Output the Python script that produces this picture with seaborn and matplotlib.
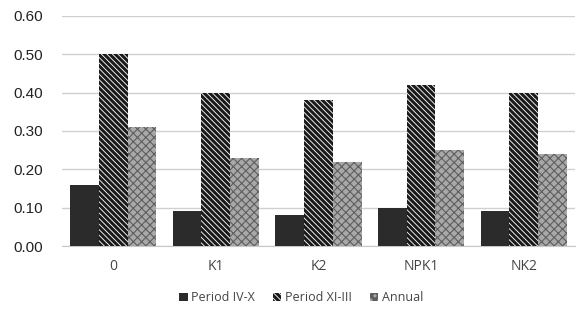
import matplotlib
matplotlib.use("Agg")
import matplotlib.pyplot as plt
import seaborn as sns
import pandas as pd
from matplotlib.patches import Patch

categories = ["0", "K1", "K2", "NPK1", "NK2"]
series = ["Period IV-X", "Period XI-III", "Annual"]
period_iv_x = [0.16, 0.09, 0.08, 0.10, 0.09]
period_xi_iii = [0.50, 0.40, 0.38, 0.42, 0.40]
annual = [0.31, 0.23, 0.22, 0.25, 0.24]
yticks = [0.0, 0.1, 0.2, 0.3, 0.4, 0.5, 0.6]

rows = []
for name, vals in zip(series, [period_iv_x, period_xi_iii, annual]):
    for c, v in zip(categories, vals):
        rows.append({"cat": c, "series": name, "value": v})
df = pd.DataFrame(rows)

sns.set_style("white")
plt.rcParams["hatch.linewidth"] = 2.2
fig = plt.figure(figsize=(5.79, 3.11), dpi=100)
ax = fig.add_axes([0.107, 0.209, 0.886, 0.74])

styles = {
    "Period IV-X": dict(fc="#2b2b2b", hatch=None, ec="#2b2b2b", hlw=None),
    "Period XI-III": dict(fc="white", hatch="\\" * 6, ec="#1a1a1a", hlw=2.2),
    "Annual": dict(fc="#a8a8a8", hatch="xxxx", ec="#5e5e5e", hlw=0.8),
}

sns.barplot(data=df, x="cat", y="value", hue="series", order=categories,
            hue_order=series, ax=ax, width=0.84, errorbar=None,
            palette=["#2b2b2b", "white", "#a8a8a8"], legend=False, zorder=3)

def style_patch(p, st):
    p.set_facecolor(st["fc"])
    p.set_edgecolor(st["ec"])
    p.set_linewidth(0)
    if st["hatch"]:
        p.set_hatch(st["hatch"])
        if st["hlw"] is not None and hasattr(p, "set_hatch_linewidth"):
            p.set_hatch_linewidth(st["hlw"])

n = len(categories)
for i, patch in enumerate(ax.patches[: n * len(series)]):
    style_patch(patch, styles[series[i // n]])

ax.set_ylim(0, 0.6)
ax.set_yticks(yticks)
ax.set_yticklabels([f"{t:.2f}" for t in yticks], fontsize=11,
                   family="Liberation Sans", color="#222222")
ax.set_xticks(range(n))
ax.set_xticklabels(categories, fontsize=10, family="Open Sans", color="#444444")
ax.tick_params(axis="y", length=0, pad=14)
ax.tick_params(axis="x", length=0, pad=9)
ax.yaxis.grid(True, color="#d0d0d0", linewidth=1.0, zorder=0)
ax.set_axisbelow(True)
for sp in ["top", "right", "left"]:
    ax.spines[sp].set_visible(False)
ax.spines["bottom"].set_color("#c8c8c8")
ax.set_xlabel("")
ax.set_ylabel("")

handles = []
for s in series:
    h = Patch(label=s)
    style_patch(h, styles[s])
    handles.append(h)
fig.legend(handles=handles, loc="center", bbox_to_anchor=(0.52, 0.042),
           ncol=3, frameon=False, handlelength=0.7,
           handleheight=0.7, handletextpad=0.3, columnspacing=1.4,
           prop={"family": "Open Sans", "size": 9})
for t in fig.legends[0].get_texts():
    t.set_color("#444444")

fig.savefig("out.png", dpi=100)
